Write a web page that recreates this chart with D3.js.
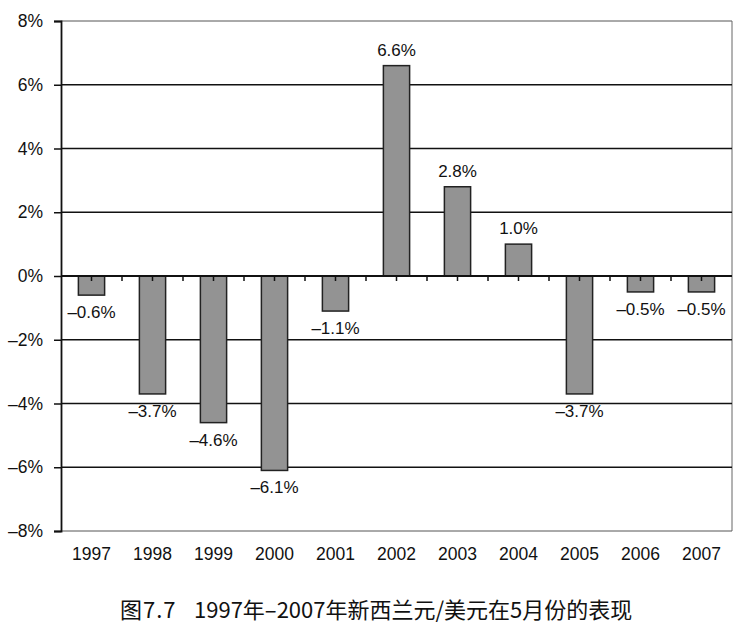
<!DOCTYPE html>
<html><head><meta charset="utf-8">
<script src="https://cdn.jsdelivr.net/npm/d3@7"></script>
<style>body{margin:0;background:#fff}</style>
</head><body>
<svg id="c" width="756" height="636"></svg>
<script>
const years = ["1997","1998","1999","2000","2001","2002","2003","2004","2005","2006","2007"];
const values = [-0.6,-3.7,-4.6,-6.1,-1.1,6.6,2.8,1.0,-3.7,-0.5,-0.5];
const yTicks = [8,6,4,2,0,-2,-4,-6,-8];
const captionFig = "图7.7";
const captionText = "1997年–2007年新西兰元/美元在5月份的表现";

const svg = d3.select("#c");
const L = 61, R = 732, T = 21, B = 531;
const x = d3.scaleBand().domain(years).range([L, R]).paddingInner(0.57).paddingOuter(0.285);
const y = d3.scaleLinear().domain([-8, 8]).range([B, T]);
const font = "'Liberation Sans', Arial, sans-serif";

// frame (top/right/bottom thin grey)
svg.append("line").attr("x1", L).attr("x2", R).attr("y1", y(8)).attr("y2", y(8)).attr("stroke", "#555").attr("stroke-width", 1);
svg.append("line").attr("x1", R).attr("x2", R).attr("y1", y(8)).attr("y2", y(-8)).attr("stroke", "#666").attr("stroke-width", 1);
svg.append("line").attr("x1", L).attr("x2", R).attr("y1", y(-8)).attr("y2", y(-8)).attr("stroke", "#555").attr("stroke-width", 1);

// gridlines
svg.append("g").selectAll("line").data(yTicks.filter(d => d !== 8 && d !== -8)).join("line")
  .attr("x1", L).attr("x2", R).attr("y1", d => y(d)).attr("y2", d => y(d))
  .attr("stroke", "#111").attr("stroke-width", 1.6);

// y axis
const ya = svg.append("g").attr("transform", `translate(${L},0)`)
  .call(d3.axisLeft(y).tickValues(yTicks).tickSize(7).tickPadding(11).tickFormat(d => (d < 0 ? "\u2013" + Math.abs(d) : d) + "%"));
ya.select(".domain").attr("stroke", "#111").attr("stroke-width", 1.8);
ya.selectAll(".tick line").attr("stroke", "#111").attr("stroke-width", 1.5);
ya.selectAll("text").attr("font-family", font).attr("font-size", 17.5).attr("fill", "#111");

// bars
svg.append("g").selectAll("rect").data(values).join("rect")
  .attr("x", (d, i) => x(years[i]))
  .attr("width", x.bandwidth())
  .attr("y", d => y(Math.max(0, d)))
  .attr("height", d => Math.abs(y(d) - y(0)))
  .attr("fill", "#939393").attr("stroke", "#222").attr("stroke-width", 1.5);

// zero axis with ticks at centers and boundaries
const step = x.step();
const tickPos = [];
years.forEach(yr => { tickPos.push(x(yr) + x.bandwidth() / 2); });
for (let i = 1; i < years.length; i++) tickPos.push(x(years[i]) + x.bandwidth() / 2 - step / 2);
svg.append("line").attr("x1", L).attr("x2", R).attr("y1", y(0)).attr("y2", y(0)).attr("stroke", "#111").attr("stroke-width", 1.8);
svg.append("g").selectAll("line").data(tickPos).join("line")
  .attr("x1", d => d).attr("x2", d => d).attr("y1", y(0)).attr("y2", y(0) + 5)
  .attr("stroke", "#111").attr("stroke-width", 1.5);

// value labels
svg.append("g").selectAll("text").data(values).join("text")
  .attr("x", (d, i) => x(years[i]) + x.bandwidth() / 2)
  .attr("y", d => d >= 0 ? y(d) - 10 : y(d) + 23)
  .attr("text-anchor", "middle")
  .attr("font-family", font).attr("font-size", 17).attr("fill", "#111")
  .text(d => (d < 0 ? "\u2013" + Math.abs(d).toFixed(1) : d.toFixed(1)) + "%");

// year labels
svg.append("g").selectAll("text").data(years).join("text")
  .attr("x", d => x(d) + x.bandwidth() / 2)
  .attr("y", 560)
  .attr("text-anchor", "middle")
  .attr("font-family", font).attr("font-size", 17.5).attr("fill", "#111")
  .text(d => d);

// caption
const cap = svg.append("text").attr("y", 618)
  .attr("font-family", "'Noto Sans CJK SC', sans-serif").attr("font-size", 22).attr("fill", "#111");
cap.append("tspan").attr("x", 120).attr("letter-spacing", 1).text(captionFig);
cap.append("tspan").attr("x", 194).text(captionText);
</script>
</body></html>
